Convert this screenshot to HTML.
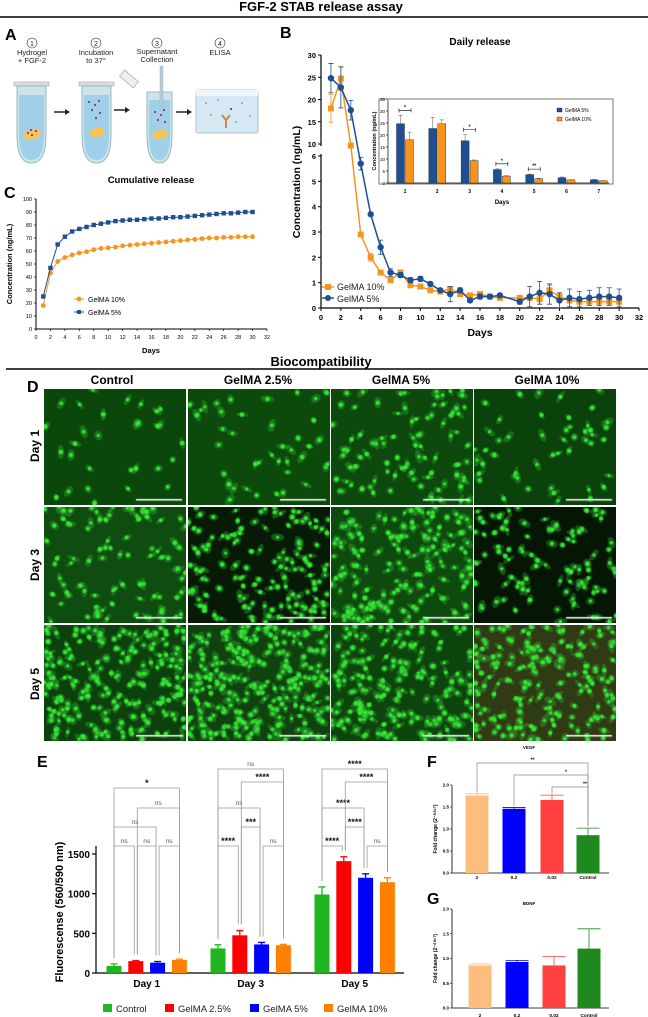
<!DOCTYPE html>
<html><head><meta charset="utf-8"><style>
html,body{margin:0;padding:0;background:#fff;}
body{width:648px;height:1017px;position:relative;overflow:hidden;font-family:"Liberation Sans",Arial,sans-serif;}
svg{position:absolute;left:0;top:0;}
canvas{position:absolute;}
text{font-family:"Liberation Sans",Arial,sans-serif;}
</style></head><body>
<svg id="fig" width="648" height="1017" viewBox="0 0 648 1017">
<text x="321" y="11" text-anchor="middle" font-size="13" font-weight="bold">FGF-2 STAB release assay</text>
<line x1="0" y1="17" x2="648" y2="17" stroke="#000" stroke-width="1.5"/>
<text x="5" y="40" font-size="16" font-weight="bold">A</text>
<text x="280" y="38" font-size="16" font-weight="bold">B</text>
<text x="4" y="198" font-size="16" font-weight="bold">C</text>

<g font-size="7.5" text-anchor="middle" fill="#222">
  <g fill="none" stroke="#333" stroke-width="0.6">
    <circle cx="32" cy="43" r="5"/><circle cx="96" cy="43" r="5"/><circle cx="157" cy="43" r="5"/><circle cx="220" cy="43" r="5"/>
  </g>
  <text x="32" y="46" font-size="7">1</text><text x="96" y="46" font-size="7">2</text><text x="157" y="46" font-size="7">3</text><text x="220" y="46" font-size="7">4</text>
  <text x="32" y="55">Hydrogel</text><text x="32" y="63">+ FGF-2</text>
  <text x="96" y="55">Incubation</text><text x="96" y="63">to 37°</text>
  <text x="157" y="54">Supernatant</text><text x="157" y="62">Collection</text>
  <text x="220" y="55">ELISA</text>
  <g>
    <rect x="14" y="82" width="35" height="4" fill="#ddd" stroke="#999" stroke-width="0.5"/>
    <path d="M17 86 L46 86 L46 135 Q46 163 31.5 163 Q17 163 17 135 Z" fill="#cfe3ee" stroke="#8aa" stroke-width="0.8"/>
    <path d="M19 95 L44 95 L44 135 Q44 160 31.5 160 Q19 160 19 135 Z" fill="#9fd0ea"/>
    <rect x="24" y="130" width="16" height="9" rx="2" fill="#f5c55a" transform="rotate(-15 32 134)"/>
    <circle cx="28" cy="133" r="1" fill="#b01030"/><circle cx="32" cy="135" r="1" fill="#b01030"/><circle cx="36" cy="131" r="1" fill="#b01030"/><circle cx="31" cy="130" r="1" fill="#b01030"/>
  </g>
  <g>
    <rect x="79" y="82" width="35" height="4" fill="#ddd" stroke="#999" stroke-width="0.5"/>
    <path d="M82 86 L111 86 L111 135 Q111 163 96.5 163 Q82 163 82 135 Z" fill="#cfe3ee" stroke="#8aa" stroke-width="0.8"/>
    <path d="M84 95 L109 95 L109 135 Q109 160 96.5 160 Q84 160 84 135 Z" fill="#9fd0ea"/>
    <rect x="90" y="128" width="14" height="9" rx="2" fill="#f5c55a" transform="rotate(-15 97 132)"/>
    <circle cx="89" cy="102" r="1" fill="#b01030"/><circle cx="95" cy="105" r="1" fill="#b01030"/><circle cx="99" cy="101" r="1" fill="#b01030"/><circle cx="92" cy="110" r="1" fill="#b01030"/><circle cx="100" cy="113" r="1" fill="#b01030"/><circle cx="96" cy="118" r="1" fill="#b01030"/>
  </g>
  <g>
    <rect x="120" y="75" width="18" height="8" fill="#eee" stroke="#999" stroke-width="0.6" transform="rotate(40 129 79)"/>
    <path d="M147 92 L172 92 L172 135 Q172 163 159.5 163 Q147 163 147 135 Z" fill="#cfe3ee" stroke="#8aa" stroke-width="0.8"/>
    <path d="M149 100 L170 100 L170 135 Q170 160 159.5 160 Q149 160 149 135 Z" fill="#9fd0ea"/>
    <rect x="160" y="66" width="3" height="40" fill="#bcd" stroke="#8aa" stroke-width="0.4"/>
    <rect x="153" y="130" width="14" height="9" rx="2" fill="#f5c55a" transform="rotate(-15 160 134)"/>
    <circle cx="155" cy="112" r="1" fill="#b01030"/><circle cx="161" cy="115" r="1" fill="#b01030"/><circle cx="164" cy="110" r="1" fill="#b01030"/><circle cx="158" cy="120" r="1" fill="#b01030"/><circle cx="165" cy="122" r="1" fill="#b01030"/>
  </g>
  <g>
    <rect x="196" y="90" width="62" height="43" rx="2" fill="#d6eaf5" stroke="#aac" stroke-width="0.8"/>
    <rect x="196" y="90" width="62" height="6" fill="#eef6fb"/>
    <path d="M226 128 L226 120 L222 115 M226 120 L230 115" stroke="#c88a50" stroke-width="2" fill="none"/>
    <circle cx="206" cy="103" r="0.9" fill="#888"/><circle cx="218" cy="100" r="0.9" fill="#888"/><circle cx="242" cy="103" r="0.9" fill="#888"/><circle cx="211" cy="115" r="0.9" fill="#888"/><circle cx="236" cy="122" r="0.9" fill="#888"/><circle cx="250" cy="116" r="0.9" fill="#888"/><circle cx="231" cy="109" r="1" fill="#a01030"/>
  </g>
  <g stroke="#222" stroke-width="1.5" fill="#222">
    <line x1="54" y1="112" x2="67" y2="112"/><path d="M70 112 L65 109 L65 115 Z" stroke="none"/>
    <line x1="114" y1="110" x2="127" y2="110"/><path d="M130 110 L125 107 L125 113 Z" stroke="none"/>
    <line x1="176" y1="112" x2="189" y2="112"/><path d="M192 112 L187 109 L187 115 Z" stroke="none"/>
  </g>
</g>

<g id="panelB"></g>
<g id="panelC"></g>

<text x="321" y="366" text-anchor="middle" font-size="13" font-weight="bold">Biocompatibility</text>
<line x1="6" y1="369" x2="648" y2="369" stroke="#000" stroke-width="1.5"/>
<text x="27" y="392" font-size="16" font-weight="bold">D</text>
<g font-size="12" font-weight="bold" text-anchor="middle">
<text x="112" y="384">Control</text>
<text x="258" y="384">GelMA 2.5%</text>
<text x="401" y="384">GelMA 5%</text>
<text x="547" y="384">GelMA 10%</text>
<text transform="translate(39 446) rotate(-90)">Day 1</text>
<text transform="translate(39 565) rotate(-90)">Day 3</text>
<text transform="translate(39 684) rotate(-90)">Day 5</text>
</g>

<text x="37" y="767" font-size="16" font-weight="bold">E</text>
<text x="427" y="767" font-size="16" font-weight="bold">F</text>
<text x="427" y="904" font-size="16" font-weight="bold">G</text>
<g id="panelE"></g>
<g id="panelF"></g>
<g id="panelG"></g>
</svg>
<div id="photos"></div>

<script>
// ---------- DATA ----------
const bDays = [1,2,3,4,5,6,7,8,9,10,11,12,13,14,15,16,17,18,20,21,22,23,24,25,26,27,28,29,30];
const bGel5 = [24.8,22.7,17.6,5.7,3.7,2.4,1.4,1.3,1.1,1.15,0.95,0.7,0.55,0.7,0.3,0.45,0.45,0.5,0.25,0.45,0.6,0.55,0.3,0.4,0.35,0.4,0.45,0.45,0.4];
const bGel5Err = [3.3,4.6,2.2,0.25,0,0.28,0.15,0.1,0.1,0.1,0.05,0.05,0.3,0.1,0.05,0.1,0.05,0.05,0.1,0.4,0.45,0.4,0.3,0.35,0.3,0.3,0.35,0.35,0.35];
const bGel10 = [18,24.7,9.5,2.9,2.0,1.4,1.1,1.4,0.9,0.85,0.7,0.65,0.75,0.55,0.5,0.55,0.45,0.4,0.4,0.4,0.35,0.7,0.45,0.3,0.25,0.25,0.25,0.25,0.25];
const bGel10Err = [3.1,2.7,0,0,0.15,0.1,0.1,0.1,0.1,0.05,0.05,0.05,0.1,0.05,0.05,0.05,0.05,0.05,0.05,0.1,0.2,0.2,0.1,0.1,0.1,0.1,0.1,0.1,0.1];
const bXTicks = [0,2,4,6,8,10,12,14,16,18,20,22,24,26,28,30,32];
const bYTicksUpper = [10,15,20,25,30];
const bYTicksLower = [0,1,2,3,4,5,6];
const inDays = ['1','2','3','4','5','6','7'];
const inGel5 = [24.7,22.7,17.6,5.6,3.5,2.2,1.3];
const inGel5Err = [3.5,4.7,2.5,0.3,0.2,0.3,0.2];
const inGel10 = [18,24.7,9.3,2.9,1.8,1.3,0.9];
const inGel10Err = [3.2,1.6,0.3,0.2,0.2,0.1,0.1];
const inYTicks = [0,5,10,15,20,25,30,35];
const inSig = [[0,'*'],[2,'*'],[3,'*'],[4,'**']];
const cDays = [1,2,3,4,5,6,7,8,9,10,11,12,13,14,15,16,17,18,19,20,21,22,23,24,25,26,27,28,29,30];
const cGel5 = [25,47,65,71,75,77,78.5,80,81,82,83,83.5,84,84,84.5,85,85,85.5,86,86,86.5,87,87.5,88,88.5,89,89,89.5,90,90];
const cGel10 = [18,43,52,55,57,58.5,59.5,61,62,62.5,63,64,64.5,65,65.5,66,66.5,67,67.5,68,68.5,69,69.5,70,70,70.5,70.5,71,71,71];
const cXTicks = [0,2,4,6,8,10,12,14,16,18,20,22,24,26,28,30,32];
const cYTicks = [0,10,20,30,40,50,60,70,80,90,100];
const eGroups = ['Day 1','Day 3','Day 5'];
const eSeries = ['Control','GelMA 2.5%','GelMA 5%','GelMA 10%'];
const eVals = [[90,150,130,165],[310,475,360,350],[990,1410,1200,1145]];
const eErr = [[25,8,15,10],[45,60,25,10],[95,55,50,55]];
const eYTicks = [0,500,1000,1500];
const eSig = [
 [0,0,1,0,'ns'],[0,1,2,0,'ns'],[0,2,3,0,'ns'],[0,0,2,1,'ns'],[0,1,3,2,'ns'],[0,0,3,3,'*'],
 [1,0,1,0,'****'],[1,2,3,0,'ns'],[1,1,2,1,'***'],[1,0,2,2,'ns'],[1,1,3,3,'****'],[1,0,3,4,'ns'],
 [2,0,1,0,'****'],[2,2,3,0,'ns'],[2,1,2,1,'****'],[2,0,2,2,'****'],[2,1,3,3,'****'],[2,0,3,4,'****']];
const fgCats = ['2','0.2','0.02','Control'];
const fVals = [1.76,1.46,1.66,0.86];
const fErr = [0.04,0.03,0.11,0.16];
const gVals = [0.86,0.93,0.86,1.2];
const gErr = [0.03,0.03,0.18,0.4];
const fgYTicks = [0,0.5,1.0,1.5,2.0];
const fSig = [[0,3,'**'],[1,3,'*'],[2,3,'**']];

const NS='http://www.w3.org/2000/svg';
function mk(tag, attrs, parent){const e=document.createElementNS(NS,tag);for(const k in attrs)e.setAttribute(k,attrs[k]);parent.appendChild(e);return e;}
function txt(s, attrs, parent){const e=mk('text',attrs,parent);e.textContent=s;return e;}

// ---------- Panel B ----------
(function(){
const g=document.getElementById('panelB');
const x=d=>321+d*318/32;
const y=v=> v>=10 ? 144-(v-10)*4.45 : (v<=6 ? 308-v*25.33 : 156-(v-6)*3);
const BLUE='#1d4f91', OR='#f7941d';
let t=txt('Daily release',{x:480,y:45,'text-anchor':'middle','font-size':10,'font-weight':'bold'},g);


let ax=mk('path',{d:'M321 55 L321 146 M321 154 L321 308 L639 308',stroke:'#000','stroke-width':1.2,fill:'none'},g);


bXTicks.forEach(v=>{mk('line',{x1:x(v),x2:x(v),y1:308,y2:311,stroke:'#000'},g);
 const l=txt(v,{x:x(v),y:320,'text-anchor':'middle','font-size':7.5,'font-weight':'bold'},g);
 
 });
bYTicksUpper.forEach(v=>{mk('line',{x1:318,x2:321,y1:y(v),y2:y(v),stroke:'#000'},g);
 const l=txt(v,{x:316,y:y(v)+3,'text-anchor':'end','font-size':7.5,'font-weight':'bold'},g);
 
 });
bYTicksLower.forEach(v=>{mk('line',{x1:318,x2:321,y1:y(v),y2:y(v),stroke:'#000'},g);
 const l=txt(v,{x:316,y:y(v)+3,'text-anchor':'end','font-size':7.5,'font-weight':'bold'},g);
 
 });
t=txt('Concentration (ng/mL)',{transform:'translate(300 182) rotate(-90)','text-anchor':'middle','font-size':10.5,'font-weight':'bold'},g);


t=txt('Days',{x:480,y:336,'text-anchor':'middle','font-size':10.5,'font-weight':'bold'},g);


function series(vals,errs,col,shape,name){
  const s=mk('g',{},g);
  
  
  mk('polyline',{points:bDays.map((d,i)=>x(d)+','+y(vals[i])).join(' '),fill:'none',stroke:col,'stroke-width':1.5},s);
  bDays.forEach((d,i)=>{
    const e=errs[i]; if(e>0){mk('path',{d:`M${x(d)} ${y(vals[i]-e)} L${x(d)} ${y(vals[i]+e)} M${x(d)-2.5} ${y(vals[i]+e)} L${x(d)+2.5} ${y(vals[i]+e)} M${x(d)-2.5} ${y(vals[i]-e)} L${x(d)+2.5} ${y(vals[i]-e)}`,stroke:col,'stroke-width':0.8,fill:'none'},s);}
    let m;
    if(shape==='sq') m=mk('rect',{x:x(d)-3,y:y(vals[i])-3,width:6,height:6,fill:col},s);
    else m=mk('circle',{cx:x(d),cy:y(vals[i]),r:3.2,fill:col},s);
    
    
  });
}
series(bGel10,bGel10Err,OR,'sq','b-series-gelma-10');
series(bGel5,bGel5Err,BLUE,'ci','b-series-gelma-5');
let lg=mk('g',{},g);


mk('line',{x1:322,x2:334,y1:287,y2:287,stroke:OR,'stroke-width':1.5},lg);mk('rect',{x:325,y:284,width:6,height:6,fill:OR},lg);
txt('GelMA 10%',{x:337,y:290,'font-size':9,fill:'#222'},lg);
mk('line',{x1:322,x2:334,y1:298,y2:298,stroke:BLUE,'stroke-width':1.5},lg);mk('circle',{cx:328,cy:298,r:3,fill:BLUE},lg);
txt('GelMA 5%',{x:337,y:302,'font-size':9,fill:'#222'},lg);
const ig=mk('g',{},g);


mk('rect',{x:379,y:99,width:234,height:85,fill:'#fff',stroke:'#555','stroke-width':0.8},ig);
const iy=v=>183-v*(84/35);
const ix=i=>405+i*32.3;
inYTicks.forEach(v=>{mk('line',{x1:386,x2:388,y1:iy(v),y2:iy(v),stroke:'#000','stroke-width':0.6},ig);
 const l=txt(v,{x:385,y:iy(v)+2,'text-anchor':'end','font-size':4.5},ig);
 
 });
mk('path',{d:'M388 100 L388 183 L609 183',stroke:'#000','stroke-width':0.7,fill:'none'},ig);
inDays.forEach((d,i)=>{
 const l=txt(d,{x:ix(i),y:193,'text-anchor':'middle','font-size':5,'font-weight':'bold'},ig);
 
 
 [[inGel5,inGel5Err,'#1d4f91',-4.5],[inGel10,inGel10Err,'#f7941d',4.5]].forEach(([vs,es,c,off])=>{
   const b=mk('rect',{x:ix(i)+off-4,y:iy(vs[i]),width:8,height:183-iy(vs[i]),fill:c,stroke:'#222','stroke-width':0.4},ig);
   
   
   mk('path',{d:`M${ix(i)+off} ${iy(vs[i])} L${ix(i)+off} ${iy(vs[i]+es[i])} M${ix(i)+off-2} ${iy(vs[i]+es[i])} L${ix(i)+off+2} ${iy(vs[i]+es[i])}`,stroke:'#555','stroke-width':0.5,fill:'none'},ig);
 });
});
inSig.forEach(([i,s])=>{
 const top=iy(Math.max(inGel5[i]+inGel5Err[i],inGel10[i]+inGel10Err[i]))-5;
 mk('path',{d:`M${ix(i)-6} ${top-2} L${ix(i)-6} ${top+2} M${ix(i)-6} ${top} L${ix(i)+6} ${top} M${ix(i)+6} ${top-2} L${ix(i)+6} ${top+2}`,stroke:'#000','stroke-width':0.6,fill:'none'},ig);
 txt(s,{x:ix(i),y:top-1.5,'text-anchor':'middle','font-size':5,'font-weight':'bold'},ig);
});
t=txt('Concentration (ng/mL)',{transform:'translate(376 141) rotate(-90)','text-anchor':'middle','font-size':5.5,'font-weight':'bold'},ig);


t=txt('Days',{x:502,y:204,'text-anchor':'middle','font-size':6,'font-weight':'bold'},ig);


mk('rect',{x:557,y:108,width:5,height:4,fill:'#1d4f91',stroke:'#000','stroke-width':0.3},ig);
txt('GelMA 5%',{x:565,y:112,'font-size':5},ig);
mk('rect',{x:557,y:117,width:5,height:4,fill:'#f7941d',stroke:'#000','stroke-width':0.3},ig);
txt('GelMA 10%',{x:565,y:121,'font-size':5},ig);
})();

// ---------- Panel C ----------
(function(){
const g=document.getElementById('panelC');
const x=d=>36+d*231/32, y=v=>329-v*1.3;
let t=txt('Cumulative release',{x:151,y:183,'text-anchor':'middle','font-size':9.5,'font-weight':'bold'},g);


let a=mk('path',{d:'M36 199 L36 329 L267 329',stroke:'#000','stroke-width':1,fill:'none'},g);


cXTicks.forEach(v=>{mk('line',{x1:x(v),x2:x(v),y1:329,y2:331,stroke:'#000','stroke-width':0.7},g);
 const l=txt(v,{x:x(v),y:339,'text-anchor':'middle','font-size':5.5},g);
 
 });
cYTicks.forEach(v=>{mk('line',{x1:34,x2:36,y1:y(v),y2:y(v),stroke:'#000','stroke-width':0.7},g);
 const l=txt(v,{x:32,y:y(v)+2,'text-anchor':'end','font-size':5.5},g);
 
 });
t=txt('Concentration (ng/mL)',{transform:'translate(12 264) rotate(-90)','text-anchor':'middle','font-size':7.5,'font-weight':'bold'},g);


t=txt('Days',{x:151,y:353,'text-anchor':'middle','font-size':7.5,'font-weight':'bold'},g);


[[cGel10,'#f7941d','ci','c-series-gelma-10'],[cGel5,'#1d4f91','sq','c-series-gelma-5']].forEach(([vs,c,sh,nm])=>{
 const s=mk('g',{},g);
 
 
 mk('polyline',{points:cDays.map((d,i)=>x(d)+','+y(vs[i])).join(' '),fill:'none',stroke:c,'stroke-width':1},s);
 cDays.forEach((d,i)=>{let m;
  if(sh==='sq') m=mk('rect',{x:x(d)-2.2,y:y(vs[i])-2.2,width:4.4,height:4.4,fill:c},s);
  else m=mk('circle',{cx:x(d),cy:y(vs[i]),r:2.4,fill:c},s);
  
  });
});
mk('line',{x1:74,x2:84,y1:299,y2:299,stroke:'#f7941d'},g);mk('circle',{cx:79,cy:299,r:2.4,fill:'#f7941d'},g);
txt('GelMA 10%',{x:88,y:302,'font-size':7},g);
mk('line',{x1:74,x2:84,y1:312,y2:312,stroke:'#1d4f91'},g);mk('rect',{x:77,y:310,width:4,height:4,fill:'#1d4f91'},g);
txt('GelMA 5%',{x:88,y:315,'font-size':7},g);
})();

// ---------- Panel E ----------
(function(){
const g=document.getElementById('panelE');
const cols=['#22b522','#ff0000','#0000ff','#ff8000'];
const y=v=>973-v*(119/1500);
const cx=(gi,si)=>114+gi*104+si*21.8;
let a=mk('path',{d:'M96 846 L96 973 L404 973',stroke:'#000','stroke-width':1.2,fill:'none'},g);


eYTicks.forEach(v=>{mk('line',{x1:92,x2:96,y1:y(v),y2:y(v),stroke:'#000','stroke-width':1.2},g);
 const l=txt(v,{x:90,y:y(v)+4,'text-anchor':'end','font-size':10,'font-weight':'bold'},g);
 
 });
let t=txt('Fluorescense (560/590 nm)',{transform:'translate(63 912) rotate(-90)','text-anchor':'middle','font-size':11,'font-weight':'bold'},g);


eGroups.forEach((gn,gi)=>{
 const l=txt(gn,{x:cx(gi,1.5),y:987,'text-anchor':'middle','font-size':10,'font-weight':'bold'},g);
 
 
 eVals[gi].forEach((v,si)=>{
  const b=mk('rect',{x:cx(gi,si)-7.5,y:y(v),width:15,height:973-y(v),fill:cols[si]},g);
  
  
  const ey=y(v+eErr[gi][si]);
  mk('path',{d:`M${cx(gi,si)} ${y(v)} L${cx(gi,si)} ${ey} M${cx(gi,si)-3.5} ${ey} L${cx(gi,si)+3.5} ${ey}`,stroke:cols[si],'stroke-width':1.3,fill:'none'},g);
 });
});
const lv=[846,827,808,788,769];
const lvMid=[846,827,808,782,769];
eSig.forEach(([gi,a1,b1,lvl,lab])=>{
 const yy=(gi===0?lv:lvMid)[lvl];
 const x1=cx(gi,a1)+(a1>0?1.5:0), x2=cx(gi,b1)-(b1<3?1.5:0);
 const yb1=y(eVals[gi][a1]+eErr[gi][a1])-6, yb2=y(eVals[gi][b1]+eErr[gi][b1])-6;
 const p=mk('path',{d:`M${x1} ${yb1} L${x1} ${yy} L${x2} ${yy} L${x2} ${yb2}`,stroke:'#999','stroke-width':0.8,fill:'none'},g);
 
 
 const star=lab!=='ns';
 txt(lab,{x:(x1+x2)/2,y:star?yy-2:yy-3,'text-anchor':'middle','font-size':star?9:6.5,'font-weight':star?'bold':'normal',fill:star?'#111':'#555'},g);
});
eSeries.forEach((s,si)=>{
 const lx=[103,165,250,324][si];
 const r=mk('rect',{x:lx,y:1004,width:9,height:8,fill:cols[si]},g);
 
 
 const l=txt(s,{x:lx+13,y:1012,'font-size':9.5,fill:'#222'},g);
 
 
});
})();

// ---------- Panels F & G ----------
function fg(id, vals, errs, y0, y2, title, titleY, sig, labelY, xs, bw){
 const g=document.getElementById(id);
 const cols=['#fcbd7f','#0000ff','#ff4040','#1e8a1e'];
 const y=v=>y0-v*(y0-y2)/2;
 let t=txt(title,{x:529,y:titleY,'text-anchor':'middle','font-size':4.5,'font-weight':'bold'},g);
 
 
 let a=mk('path',{d:`M452 ${y2} L452 ${y0} L609 ${y0}`,stroke:'#000','stroke-width':0.8,fill:'none'},g);
 
 
 fgYTicks.forEach(v=>{mk('line',{x1:450,x2:452,y1:y(v),y2:y(v),stroke:'#000','stroke-width':0.6},g);
  const l=txt(v.toFixed(1),{x:449,y:y(v)+1.7,'text-anchor':'end','font-size':4.5,'font-weight':'bold'},g);
  
  });
 t=txt('Fold change (2⁻ᐞᐞᶜᵀ)',{transform:`translate(437 ${(y0+y2)/2}) rotate(-90)`,'text-anchor':'middle','font-size':5,'font-weight':'bold'},g);
 
 
 fgCats.forEach((c,i)=>{
  const b=mk('rect',{x:xs[i]-bw/2,y:y(vals[i]),width:bw,height:y0-y(vals[i]),fill:cols[i]},g);
  
  
  const ey=y(vals[i]+errs[i]);
  mk('path',{d:`M${xs[i]} ${y(vals[i])} L${xs[i]} ${ey} M${xs[i]-bw/2} ${ey} L${xs[i]+bw/2} ${ey}`,stroke:cols[i],'stroke-width':0.8,fill:'none'},g);
  const l=txt(c,{x:xs[i],y:labelY,'text-anchor':'middle','font-size':4.8,'font-weight':'bold'},g);
  
  
 });
 const lv=[763,775,787];
 sig.forEach(([a1,b1,lab],k)=>{
  const yy=lv[k];
  const p=mk('path',{d:`M${xs[a1]} ${y(vals[a1]+errs[a1])-1} L${xs[a1]} ${yy} L${xs[b1]} ${yy} L${xs[b1]} ${y(vals[b1]+errs[b1])-2}`,stroke:'#888','stroke-width':0.7,fill:'none'},g);
  
  
  txt(lab,{x:(xs[a1]+xs[b1])/2+(k===0?0:15),y:yy-1.5,'text-anchor':'middle','font-size':5,'font-weight':'bold'},g);
 });
}
fg('panelF',fVals,fErr,873,785,'VEGF',749,fSig,879,[477,514,552,588],23);
fg('panelG',gVals,gErr,1008,909,'BDNF',905,[],1017,[480,517,554,589],23);

// ---------- Microscopy images (decorative texture) ----------
(function(){
const host=document.getElementById('photos');
const colsX=[44,188,331,474], rowsY=[389,507,625], W=142, H=116;
const counts=[[30,40,90,50],[90,140,170,100],[210,270,190,180]];
const bgs=[['#0b470b','#0c4a0c','#0d480d','#0b420b'],['#0f4c0f','#061a06','#0e4a0e','#051605'],['#0c400c','#0f420f','#0d440d','#303a14']];
let seed=12345;
const rnd=()=>{seed=(seed*1103515245+12345)%2147483648;return seed/2147483648;};
rowsY.forEach((ry,r)=>colsX.forEach((cx,c)=>{
 const cv=document.createElement('canvas');
 cv.width=W;cv.height=H;cv.style.left=cx+'px';cv.style.top=ry+'px';
 
 
 host.appendChild(cv);
 const ctx=cv.getContext('2d');
 ctx.fillStyle=bgs[r][c];ctx.fillRect(0,0,W,H);
 const n=counts[r][c];
 for(let i=0;i<n;i++){
  const px=rnd()*W, py=rnd()*H;
  ctx.fillStyle='rgba(50,180,50,0.4)';
  ctx.beginPath();ctx.ellipse(px,py,3.5+rnd()*3.5,2+rnd()*2,rnd()*3,0,6.3);ctx.fill();
  ctx.fillStyle='#35e835';
  ctx.beginPath();ctx.arc(px,py,1.6+rnd()*0.9,0,6.3);ctx.fill();
 }
 ctx.fillStyle='#fff';ctx.fillRect(W-50,H-6,46,1.5);
}));
})();
</script>
</body></html>
